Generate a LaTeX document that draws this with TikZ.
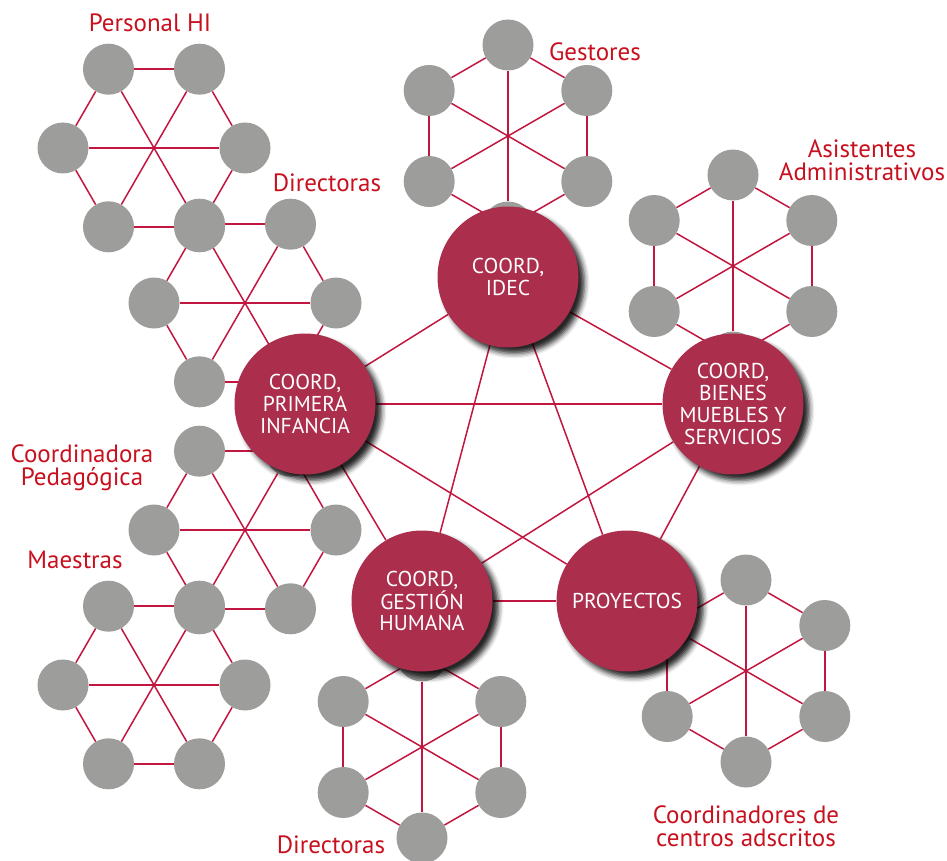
\documentclass[tikz,border=0pt]{standalone}
\usepackage{fontspec}
\setmainfont{PT Sans}
\usetikzlibrary{calc,shadows.blur}

\definecolor{orgred}{RGB}{171,46,76}
\definecolor{orglink}{RGB}{193,22,63}
\definecolor{orggrey}{RGB}{157,157,156}
\definecolor{orglabel}{RGB}{200,16,30}

\pgfdeclarelayer{background}
\pgfsetlayers{background,main}

\tikzset{
  member/.style={circle, fill=orggrey, minimum size=51pt, inner sep=0pt},
  coord/.style={circle, fill=orgred, minimum size=141pt, inner sep=0pt, align=center,
    text=white, font=\fontsize{21.5}{21.7}\selectfont,
    blur shadow={shadow xshift=6pt, shadow yshift=-6pt, shadow blur radius=5pt, shadow opacity=85}},
  link/.style={orglink, line width=1.5pt},
  group/.style={text=orglabel, align=center, font=\fontsize{25}{23}\selectfont},
}

\begin{document}
\begin{tikzpicture}[x=1pt, y=-1pt]

  \useasboundingbox (0,0) rectangle (947,861);

  % Clusters (flat ones start at 0, pointed ones at 30)
  \foreach \h/\cx/\cy/\a in {ph/154/148/0, dsup/245/303/0, cp/245/530/0, ma/154/685/0,
                             ge/508/136/30, as/733/266/30, dinf/422/747/30, cc/746/671/30}{
    \coordinate (\h0) at (\cx,\cy);
    \foreach \k in {1,...,6}
      \node[member] (\h\k) at ($(\h0)+(\a+60*\k:91)$) {};
  }

  % Coordinations
  \node[coord] (idec) at (508,277) {COORD,\\IDEC};
  \node[coord] (infancia) at (305,404) {COORD,\\PRIMERA\\INFANCIA};
  \node[coord] (bienes) at (733,404) {COORD,\\BIENES\\MUEBLES Y\\SERVICIOS};
  \node[coord] (gestion) at (422,601) {COORD,\\GESTIÓN\\HUMANA};
  \node[coord] (proyectos) at (627,601) {PROYECTOS};

  % Links
  \begin{pgfonlayer}{background}
    \foreach \h in {ph,dsup,cp,ma,ge,as,dinf,cc}{
      \foreach \k in {1,...,6}{
        \pgfmathtruncatemacro\n{mod(\k,6)+1}
        \draw[link] (\h\k) -- (\h\n);
      }
      \foreach \k in {1,2,3}{
        \pgfmathtruncatemacro\m{\k+3}
        \draw[link] (\h\k) -- (\h\m);
      }
    }
    \foreach \u/\v in {idec/infancia, idec/bienes, idec/gestion, idec/proyectos,
                       infancia/bienes, infancia/gestion, infancia/proyectos,
                       bienes/gestion, bienes/proyectos, gestion/proyectos}
      \draw[link] (\u) -- (\v);
  \end{pgfonlayer}

  % Labels
  \node[group, anchor=base] (lph) at (150,32) {Personal HI};
  \node[group, anchor=base] (lge) at (595,61) {Gestores};
  \node[group, anchor=base] (ldsup) at (327,192) {Directoras};
  \node[group] (las) at (862,160) {Asistentes\\Administrativos};
  \node[group] (lcp) at (82,468) {Coordinadora\\Pedagógica};
  \node[group, anchor=base] (lma) at (75,568) {Maestras};
  \node[group, anchor=base] (ldinf) at (331,853) {Directoras};
  \node[group] (lcc) at (746,826) {Coordinadores de\\centros adscritos};

\end{tikzpicture}
\end{document}
